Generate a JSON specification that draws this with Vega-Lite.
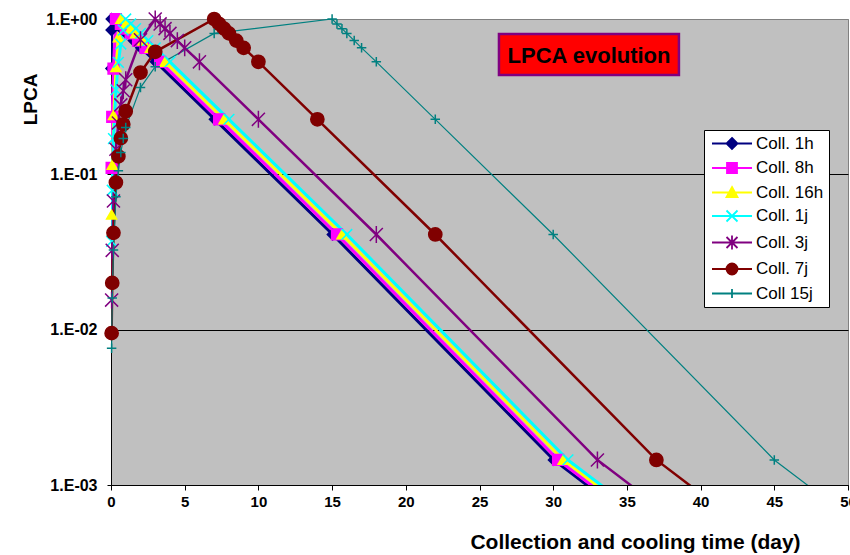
{
  "$schema": "https://vega.github.io/schema/vega-lite/v6.json",
  "width": 737,
  "height": 466,
  "autosize": {"type": "none"},
  "padding": {"left": 111, "top": 19, "right": 2, "bottom": 70},
  "background": "white",
  "data": {"values": [
    {"s":"Coll. 1h","t":0.021,"v":0.48},{"s":"Coll. 1h","t":0.035,"v":0.85},{"s":"Coll. 1h","t":0.042,"v":1},
    {"s":"Coll. 1h","t":0.375,"v":0.93},{"s":"Coll. 1h","t":0.708,"v":0.867},{"s":"Coll. 1h","t":1.042,"v":0.808},{"s":"Coll. 1h","t":1.542,"v":0.726},{"s":"Coll. 1h","t":2.042,"v":0.652},{"s":"Coll. 1h","t":3.042,"v":0.53},{"s":"Coll. 1h","t":7.042,"v":0.226},{"s":"Coll. 1h","t":15.04,"v":0.041},{"s":"Coll. 1h","t":30.04,"v":0.00145},{"s":"Coll. 1h","t":45.04,"v":0.00012},
    {"s":"Coll. 8h","t":0.042,"v":0.11},{"s":"Coll. 8h","t":0.083,"v":0.234},{"s":"Coll. 8h","t":0.167,"v":0.48},{"s":"Coll. 8h","t":0.333,"v":1},
    {"s":"Coll. 8h","t":0.667,"v":0.93},{"s":"Coll. 8h","t":1.0,"v":0.867},{"s":"Coll. 8h","t":1.333,"v":0.808},{"s":"Coll. 8h","t":1.833,"v":0.726},{"s":"Coll. 8h","t":2.333,"v":0.652},{"s":"Coll. 8h","t":3.333,"v":0.53},{"s":"Coll. 8h","t":7.333,"v":0.226},{"s":"Coll. 8h","t":15.33,"v":0.041},{"s":"Coll. 8h","t":30.33,"v":0.00145},{"s":"Coll. 8h","t":45.33,"v":0.00012},
    {"s":"Coll. 16h","t":0.042,"v":0.055},{"s":"Coll. 16h","t":0.083,"v":0.115},{"s":"Coll. 16h","t":0.167,"v":0.24},{"s":"Coll. 16h","t":0.333,"v":0.49},{"s":"Coll. 16h","t":0.5,"v":0.76},{"s":"Coll. 16h","t":0.667,"v":1},
    {"s":"Coll. 16h","t":1.0,"v":0.93},{"s":"Coll. 16h","t":1.333,"v":0.867},{"s":"Coll. 16h","t":1.667,"v":0.808},{"s":"Coll. 16h","t":2.167,"v":0.726},{"s":"Coll. 16h","t":2.667,"v":0.652},{"s":"Coll. 16h","t":3.667,"v":0.53},{"s":"Coll. 16h","t":7.667,"v":0.226},{"s":"Coll. 16h","t":15.67,"v":0.041},{"s":"Coll. 16h","t":30.67,"v":0.00145},{"s":"Coll. 16h","t":45.67,"v":0.00012},
    {"s":"Coll. 1j","t":0.042,"v":0.037},{"s":"Coll. 1j","t":0.083,"v":0.079},{"s":"Coll. 1j","t":0.167,"v":0.17},{"s":"Coll. 1j","t":0.333,"v":0.35},{"s":"Coll. 1j","t":0.5,"v":0.526},{"s":"Coll. 1j","t":0.667,"v":0.69},{"s":"Coll. 1j","t":0.833,"v":0.848},{"s":"Coll. 1j","t":1.0,"v":1},
    {"s":"Coll. 1j","t":1.333,"v":0.93},{"s":"Coll. 1j","t":1.667,"v":0.867},{"s":"Coll. 1j","t":2.0,"v":0.808},{"s":"Coll. 1j","t":2.5,"v":0.726},{"s":"Coll. 1j","t":3.0,"v":0.652},{"s":"Coll. 1j","t":4.0,"v":0.53},{"s":"Coll. 1j","t":8.0,"v":0.226},{"s":"Coll. 1j","t":16.0,"v":0.041},{"s":"Coll. 1j","t":31.0,"v":0.00145},{"s":"Coll. 1j","t":46.0,"v":0.00012},
    {"s":"Coll. 3j","t":0.042,"v":0.0155},{"s":"Coll. 3j","t":0.083,"v":0.0324},{"s":"Coll. 3j","t":0.167,"v":0.0674},{"s":"Coll. 3j","t":0.333,"v":0.145},{"s":"Coll. 3j","t":0.5,"v":0.214},{"s":"Coll. 3j","t":0.667,"v":0.28},{"s":"Coll. 3j","t":0.833,"v":0.345},{"s":"Coll. 3j","t":1.0,"v":0.406},{"s":"Coll. 3j","t":2.0,"v":0.735},{"s":"Coll. 3j","t":3.0,"v":1},
    {"s":"Coll. 3j","t":3.333,"v":0.93},{"s":"Coll. 3j","t":3.667,"v":0.867},{"s":"Coll. 3j","t":4.0,"v":0.808},{"s":"Coll. 3j","t":4.5,"v":0.726},{"s":"Coll. 3j","t":5.0,"v":0.652},{"s":"Coll. 3j","t":6.0,"v":0.53},{"s":"Coll. 3j","t":10.0,"v":0.226},{"s":"Coll. 3j","t":18.0,"v":0.041},{"s":"Coll. 3j","t":33.0,"v":0.00145},{"s":"Coll. 3j","t":48.0,"v":0.00012},
    {"s":"Coll. 7j","t":0.042,"v":0.0095},{"s":"Coll. 7j","t":0.083,"v":0.02},{"s":"Coll. 7j","t":0.167,"v":0.042},{"s":"Coll. 7j","t":0.333,"v":0.0886},{"s":"Coll. 7j","t":0.5,"v":0.1305},{"s":"Coll. 7j","t":0.667,"v":0.171},{"s":"Coll. 7j","t":0.833,"v":0.21},{"s":"Coll. 7j","t":1.0,"v":0.255},{"s":"Coll. 7j","t":2.0,"v":0.452},{"s":"Coll. 7j","t":3.0,"v":0.615},{"s":"Coll. 7j","t":7.0,"v":1},
    {"s":"Coll. 7j","t":7.333,"v":0.93},{"s":"Coll. 7j","t":7.667,"v":0.867},{"s":"Coll. 7j","t":8.0,"v":0.808},{"s":"Coll. 7j","t":8.5,"v":0.726},{"s":"Coll. 7j","t":9.0,"v":0.652},{"s":"Coll. 7j","t":10.0,"v":0.53},{"s":"Coll. 7j","t":14.0,"v":0.226},{"s":"Coll. 7j","t":22.0,"v":0.041},{"s":"Coll. 7j","t":37.0,"v":0.00145},{"s":"Coll. 7j","t":52.0,"v":0.00012},
    {"s":"Coll 15j","t":0.042,"v":0.0076},{"s":"Coll 15j","t":0.083,"v":0.016},{"s":"Coll 15j","t":0.167,"v":0.0326},{"s":"Coll 15j","t":0.333,"v":0.0716},{"s":"Coll 15j","t":0.5,"v":0.1055},{"s":"Coll 15j","t":0.667,"v":0.138},{"s":"Coll 15j","t":0.833,"v":0.17},{"s":"Coll 15j","t":1.0,"v":0.2},{"s":"Coll 15j","t":2.0,"v":0.362},{"s":"Coll 15j","t":3.0,"v":0.493},{"s":"Coll 15j","t":7.0,"v":0.808},{"s":"Coll 15j","t":15.0,"v":1},
    {"s":"Coll 15j","t":15.33,"v":0.93},{"s":"Coll 15j","t":15.67,"v":0.867},{"s":"Coll 15j","t":16.0,"v":0.808},{"s":"Coll 15j","t":16.5,"v":0.726},{"s":"Coll 15j","t":17.0,"v":0.652},{"s":"Coll 15j","t":18.0,"v":0.53},{"s":"Coll 15j","t":22.0,"v":0.226},{"s":"Coll 15j","t":30.0,"v":0.041},{"s":"Coll 15j","t":45.0,"v":0.00145},{"s":"Coll 15j","t":60.0,"v":0.00012}
  ]},
  "layer": [
    {
      "transform": [{"filter": "false"}],
      "mark": {"type": "point", "filled": true, "strokeWidth": 1.8},
      "encoding": {
        "shape": {"field": "s", "type": "nominal",
          "scale": {"domain": ["Coll. 1h","Coll. 8h","Coll. 16h","Coll. 1j","Coll. 3j","Coll. 7j","Coll 15j"],
            "range": ["M-4,0H4M0,-1.1L1.1,0L0,1.1L-1.1,0Z","M-4,0H4M-1,-1H1V1H-1Z","M-4,0H4M0,-1.1L1.1,0.9H-1.1Z","M-4,0H4M-1.1,-1.1L1.1,1.1M-1.1,1.1L1.1,-1.1","M-4,0H4M-1.1,-1.1L1.1,1.1M-1.1,1.1L1.1,-1.1M0,-1.4V1.4","M-4,0H4M-1.1,0A1.1,1.1,0,1,0,1.1,0A1.1,1.1,0,1,0,-1.1,0Z","M-4,0H4M0,-0.9V0.9"]},
          "legend": {"title": null, "orient": "none", "legendX": 593, "legendY": 111}},
        "fill": {"field": "s", "type": "nominal",
          "scale": {"domain": ["Coll. 1h","Coll. 8h","Coll. 16h","Coll. 1j","Coll. 3j","Coll. 7j","Coll 15j"],
            "range": ["#000080","#FF00FF","#FFFF00","#00FFFF","#800080","#800000","#008080"]},
          "legend": {"title": null, "orient": "none", "legendX": 593, "legendY": 111}},
        "stroke": {"field": "s", "type": "nominal",
          "scale": {"domain": ["Coll. 1h","Coll. 8h","Coll. 16h","Coll. 1j","Coll. 3j","Coll. 7j","Coll 15j"],
            "range": ["#000080","#FF00FF","#FFFF00","#00FFFF","#800080","#800000","#008080"]},
          "legend": {"title": null, "orient": "none", "legendX": 593, "legendY": 111}}
      }
    },
    {
      "mark": {"type": "line", "clip": true},
      "encoding": {
        "x": {"field": "t", "type": "quantitative",
          "scale": {"domain": [0, 50], "nice": false, "zero": false},
          "axis": {"title": "Collection and cooling time (day)", "values": [0,5,10,15,20,25,30,35,40,45,50], "grid": false,
            "tickSize": 5, "labelPadding": 4, "labelFontSize": 15, "labelFontWeight": "bold",
            "titleFontSize": 21, "titleFontWeight": "bold", "titleX": 524, "titleY": 57, "titleAlign": "center", "titleBaseline": "middle"}},
        "y": {"field": "v", "type": "quantitative",
          "scale": {"type": "log", "domain": [0.001, 1], "nice": false},
          "axis": {"title": "LPCA", "values": [0.001, 0.01, 0.1, 1],
            "labelExpr": "datum.value >= 0.99 ? '1.E+00' : '1.E-0' + round(-log(datum.value)/LN10)",
            "grid": true, "gridColor": {"condition": {"test": "datum.value >= 0.99", "value": "#808080"}, "value": "black"}, "gridWidth": 1,
            "tickSize": 4, "labelPadding": 10, "labelFontSize": 16, "labelFontWeight": "bold",
            "titleFontSize": 19, "titleFontWeight": "bold", "titleAngle": 270, "titleX": -81, "titleY": 80, "titleAlign": "center", "titleBaseline": "middle"}},
        "stroke": {"field": "s", "type": "nominal",
          "scale": {"domain": ["Coll. 1h","Coll. 8h","Coll. 16h","Coll. 1j","Coll. 3j","Coll. 7j","Coll 15j"],
            "range": ["#000080","#FF00FF","#FFFF00","#00FFFF","#800080","#800000","#008080"]}},
        "strokeWidth": {"condition": [
          {"test": "datum.s === 'Coll 15j'", "value": 1.2},
          {"test": "datum.s === 'Coll. 16h'", "value": 2.5},
          {"test": "datum.s === 'Coll. 3j'", "value": 2.5},
          {"test": "datum.s === 'Coll. 7j'", "value": 2.5}], "value": 3}
      }
    },
    {
      "transform": [{"filter": "datum.v >= 0.001 && datum.t <= 50"}],
      "mark": {"type": "point", "filled": true, "strokeWidth": 1.5, "opacity": 1},
      "encoding": {
        "x": {"field": "t", "type": "quantitative"},
        "y": {"field": "v", "type": "quantitative"},
        "fill": {"field": "s", "type": "nominal",
          "scale": {"domain": ["Coll. 1h","Coll. 8h","Coll. 16h","Coll. 1j","Coll. 3j","Coll. 7j","Coll 15j"],
            "range": ["#000080","#FF00FF","#FFFF00","#00FFFF","#800080","#800000","#008080"]}},
        "stroke": {"field": "s", "type": "nominal",
          "scale": {"domain": ["Coll. 1h","Coll. 8h","Coll. 16h","Coll. 1j","Coll. 3j","Coll. 7j","Coll 15j"],
            "range": ["#000080","#FF00FF","#FFFF00","#00FFFF","#800080","#800000","#008080"]}},
        "shape": {"condition": [
          {"test": "datum.s === 'Coll. 1h'", "value": "diamond"},
          {"test": "datum.s === 'Coll. 8h'", "value": "square"},
          {"test": "datum.s === 'Coll. 16h'", "value": "triangle-up"},
          {"test": "datum.s === 'Coll. 1j'", "value": "M-1,-1L1,1M-1,1L1,-1"},
          {"test": "datum.s === 'Coll. 3j'", "value": "M-1,-1L1,1M-1,1L1,-1M0,-1.3V1.3"},
          {"test": "datum.s === 'Coll. 7j'", "value": "circle"}], "value": "M-1,0H1M0,-1V1"},
        "size": {"condition": [
          {"test": "datum.s === 'Coll. 3j'", "value": 170},
          {"test": "datum.s === 'Coll. 7j'", "value": 175},
          {"test": "datum.s === 'Coll. 16h'", "value": 100},
          {"test": "datum.s === 'Coll 15j'", "value": 90}], "value": 115}
      }
    },
    {
      "data": {"values": [{}]},
      "mark": {"type": "rect", "fill": "#FF0000", "stroke": "#800080", "strokeWidth": 2.5},
      "encoding": {
        "x": {"datum": 26.32, "type": "quantitative"},
        "x2": {"datum": 38.53},
        "y": {"datum": 0.80, "type": "quantitative"},
        "y2": {"datum": 0.436}
      }
    },
    {
      "data": {"values": [{}]},
      "mark": {"type": "text", "text": "LPCA evolution", "font": "Liberation Sans", "fontSize": 22, "fontWeight": "bold", "color": "black", "align": "center", "baseline": "middle"},
      "encoding": {
        "x": {"datum": 32.43, "type": "quantitative"},
        "y": {"datum": 0.578, "type": "quantitative"}
      }
    }
  ],
  "config": {
    "view": {"fill": "#C0C0C0", "stroke": "#808080", "strokeWidth": 1},
    "axis": {"domainColor": "black", "domainWidth": 1, "tickColor": "black", "labelColor": "black", "titleColor": "black",
      "labelFont": "Liberation Sans", "titleFont": "Liberation Sans", "labelFlush": false, "labelOverlap": false},
    "legend": {"padding": 5, "fillColor": "white", "strokeColor": "black", "strokeWidth": 1,
      "labelFont": "Liberation Sans", "labelFontSize": 17, "labelColor": "black", "labelLimit": 300,
      "symbolSize": 100, "symbolOffset": 14.5, "labelOffset": 15.5, "rowPadding": 5.5,
      "symbolFillColor": "white", "symbolStrokeColor": "black", "symbolOpacity": 1, "symbolStrokeWidth": 1.8}
  }
}
